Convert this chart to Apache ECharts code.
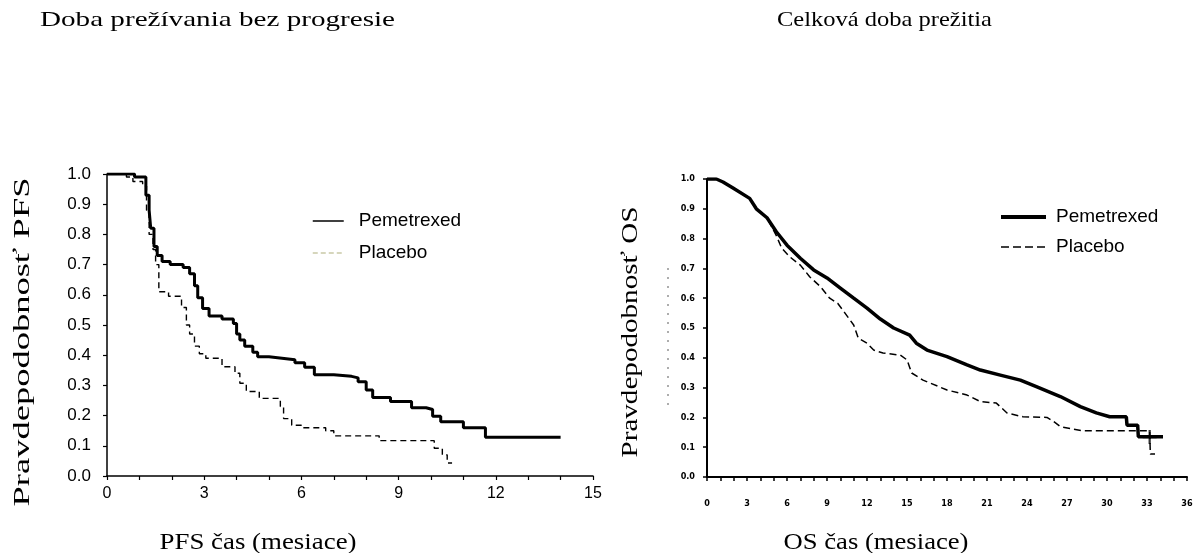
<!DOCTYPE html>
<html>
<head>
<meta charset="utf-8">
<script src="https://cdn.jsdelivr.net/npm/echarts@6/dist/echarts.min.js"></script>
<style>html,body{margin:0;padding:0;background:#fff;}#c{width:1199px;height:553px;}</style>
</head>
<body>
<div id="c"></div>
<script>
// ---- data ----
const pfsPemetrexed = [[0,1.0],[0.85,0.99],[1.2,0.93],[1.3,0.88],[1.35,0.82],[1.45,0.76],[1.55,0.73],[1.7,0.71],[1.95,0.70],[2.35,0.69],[2.55,0.67],[2.7,0.63],[2.8,0.59],[2.95,0.555],[3.15,0.53],[3.55,0.52],[3.9,0.505],[4.0,0.47],[4.1,0.45],[4.25,0.43],[4.5,0.41],[4.65,0.395],[5.0,0.39],[5.4,0.385],[5.8,0.375],[6.1,0.36],[6.4,0.335],[7.0,0.33],[7.55,0.325],[7.75,0.312],[8.0,0.285],[8.2,0.26],[8.75,0.247],[9.4,0.226],[9.85,0.22],[10.05,0.198],[10.3,0.18],[11.0,0.16],[11.68,0.128],[14.0,0.128]];
const pfsPlacebo = [[0,1.0],[0.6,0.99],[0.8,0.975],[1.1,0.96],[1.22,0.88],[1.3,0.8],[1.42,0.75],[1.5,0.70],[1.6,0.61],[1.9,0.595],[2.3,0.558],[2.45,0.5],[2.55,0.47],[2.7,0.43],[2.85,0.405],[3.05,0.39],[3.55,0.362],[3.95,0.34],[4.1,0.307],[4.3,0.28],[4.7,0.257],[5.35,0.23],[5.45,0.19],[5.7,0.168],[6.0,0.16],[6.75,0.15],[7.0,0.133],[8.4,0.117],[10.1,0.092],[10.35,0.07],[10.5,0.043],[10.65,0.043]];
const osPemetrexed = [[0,1.0],[0.7,1.0],[1.2,0.99],[1.95,0.97],[3.2,0.935],[3.7,0.90],[4.5,0.87],[5.2,0.823],[6.0,0.778],[7.0,0.734],[8.0,0.695],[9.0,0.668],[10.0,0.634],[11.0,0.60],[12.0,0.567],[13.0,0.53],[14.0,0.50],[15.2,0.476],[15.7,0.449],[16.5,0.426],[18.0,0.404],[19.5,0.376],[20.5,0.359],[22.0,0.342],[23.5,0.325],[24.7,0.303],[26.5,0.27],[28.0,0.236],[29.2,0.215],[30.2,0.202],[31.45,0.202],[31.5,0.174],[32.3,0.174],[32.35,0.135],[34.2,0.135]];
const osPlacebo = [[0,1.0],[0.7,1.0],[1.2,0.99],[2.0,0.97],[3.2,0.935],[3.7,0.90],[4.5,0.87],[5.2,0.81],[5.6,0.768],[6.2,0.739],[7.0,0.711],[7.7,0.672],[8.5,0.639],[9.2,0.60],[9.8,0.583],[10.35,0.55],[11.0,0.51],[11.35,0.466],[12.0,0.449],[12.5,0.426],[13.2,0.416],[14.5,0.409],[15.0,0.393],[15.35,0.349],[16.2,0.325],[18.0,0.292],[19.5,0.275],[20.5,0.253],[21.7,0.248],[22.5,0.215],[23.7,0.202],[25.5,0.2],[26.0,0.186],[26.5,0.169],[28.2,0.155],[33.2,0.155],[33.25,0.077],[33.6,0.077]];
const osCensor = [[33.2,0.134]];
const seriesNames = ['Pemetrexed','Placebo'];
const titles = ['Doba prežívania bez progresie','Celková doba prežitia'];
const yNames = ['Pravdepodobnosť PFS','Pravdepodobnosť OS'];
const xNames = ['PFS čas (mesiace)','OS čas (mesiace)'];

// ---- helpers ----
const mctx = document.createElement('canvas').getContext('2d');
function fitScale(text, font, targetW){ mctx.font = font; return targetW / mctx.measureText(text).width; }
const SERIF = '"Liberation Serif","Times New Roman",serif';
const titleFont = '21px ' + SERIF;
const nameFont = '24px ' + SERIF;
function txt(text, font, x, y, targetW, opts){
  opts = opts || {};
  return Object.assign({type:'text', x:x, y:y, scaleX: fitScale(text, font, targetW),
    style:{text:text, font:font, fill:'#000', align: opts.align || 'left', verticalAlign:'middle'}}, opts.rotation ? {rotation: opts.rotation} : {});
}
const tickFmt3 = v => (Math.round(v) % 3 === 0 ? String(Math.round(v)) : '');
const noSymbol = {color:'rgba(0,0,0,0)', opacity:0, borderWidth:0};

const chart = echarts.init(document.getElementById('c'), null, {renderer:'canvas'});
chart.setOption({
  backgroundColor:'#fff',
  animation:false,
  grid:[
    {left:107, top:174, width:486, height:302},
    {left:707, top:179, width:480, height:298}
  ],
  xAxis:[
    {gridIndex:0, type:'value', min:0, max:15, interval:1, offset:1,
     axisLine:{lineStyle:{color:'#000', width:1.5}}, axisTick:{length:4, lineStyle:{color:'#000', width:1.2}},
     axisLabel:{formatter:tickFmt3, color:'#000', fontFamily:'"Liberation Sans",Arial', fontSize:16, margin:9},
     splitLine:{show:false}},
    {gridIndex:1, type:'value', min:0, max:36, interval:1, offset:5,
     axisLine:{lineStyle:{color:'#000', width:2}}, axisTick:{length:4, lineStyle:{color:'#000', width:1.5}},
     axisLabel:{formatter:tickFmt3, color:'#000', fontFamily:'"DejaVu Sans Condensed","DejaVu Sans"', fontWeight:'bold', fontSize:9, margin:17},
     splitLine:{show:false}}
  ],
  yAxis:[
    {gridIndex:0, type:'value', min:0, max:1, interval:0.1,
     axisLine:{show:true, lineStyle:{color:'#000', width:1.5}}, axisTick:{show:true, length:4, lineStyle:{color:'#000', width:1.2}},
     axisLabel:{formatter:v=>v.toFixed(1), color:'#000', fontFamily:'"Liberation Sans",Arial', fontSize:17, margin:16},
     splitLine:{show:false}},
    {gridIndex:1, type:'value', min:0, max:1, interval:0.1,
     axisLine:{show:true, lineStyle:{color:'#000', width:2}}, axisTick:{show:true, length:4, lineStyle:{color:'#000', width:1.5}},
     axisLabel:{formatter:v=>v.toFixed(1), color:'#000', fontFamily:'"DejaVu Sans Condensed","DejaVu Sans"', fontWeight:'bold', fontSize:9, margin:12},
     splitLine:{show:false}}
  ],
  legend:[
    {left:312, top:210, padding:0, orient:'vertical', itemWidth:31, itemHeight:14, itemGap:10,
     itemStyle:noSymbol,
     textStyle:{fontFamily:'"Liberation Sans",Arial', fontSize:19, color:'#000', lineHeight:22, padding:[0,0,0,10]},
     data:[{name:seriesNames[0], itemStyle:noSymbol, lineStyle:{color:'#000', width:1.5, type:'solid'}},
           {name:seriesNames[1], itemStyle:noSymbol, lineStyle:{color:'#c9c9a6', width:1.5, type:[5,3]}}]},
    {left:999, top:206, padding:0, orient:'vertical', itemWidth:45, itemHeight:14, itemGap:8,
     itemStyle:noSymbol,
     textStyle:{fontFamily:'"Liberation Sans",Arial', fontSize:19, color:'#000', lineHeight:22, padding:[0,0,0,5]},
     data:[{name:seriesNames[0], itemStyle:noSymbol, lineStyle:{color:'#000', width:4, type:'solid'}},
           {name:seriesNames[1], itemStyle:noSymbol, lineStyle:{color:'#000', width:1.5, type:[8,4]}}]}
  ],
  series:[
    {name:seriesNames[1], type:'line', xAxisIndex:0, yAxisIndex:0, data:pfsPlacebo, step:'end', symbol:'none',
     lineStyle:{color:'#000', width:1.4, type:[6,4]}, z:2},
    {name:seriesNames[0], type:'line', xAxisIndex:0, yAxisIndex:0, data:pfsPemetrexed, step:'end', symbol:'none',
     lineStyle:{color:'#000', width:3}, z:3},
    {name:seriesNames[1], type:'line', xAxisIndex:1, yAxisIndex:1, data:osPlacebo, symbol:'none',
     lineStyle:{color:'#000', width:1.5, type:[7,4]}, z:2},
    {name:seriesNames[0], type:'line', xAxisIndex:1, yAxisIndex:1, data:osPemetrexed, symbol:'none',
     lineStyle:{color:'#000', width:3.5}, z:3},
    {name:'censor', type:'scatter', xAxisIndex:1, yAxisIndex:1, data:osCensor,
     symbol:'path://M4.2,0H5.8V10H4.2ZM0,4.2H10V5.8H0Z', symbolSize:14, itemStyle:{color:'#000'}, z:4}
  ],
  graphic:[
    txt(titles[0], titleFont, 40, 20, 355),
    txt(titles[1], titleFont, 777, 20, 215),
    txt(yNames[0], nameFont, 23, 342, 329, {align:'center', rotation:Math.PI/2}),
    txt(yNames[1], nameFont, 631, 332, 251, {align:'center', rotation:Math.PI/2}),
    txt(xNames[0], nameFont, 258, 543, 197, {align:'center'}),
    txt(xNames[1], nameFont, 876, 543, 185, {align:'center'}),
    {type:'line', shape:{x1:668, y1:268, x2:668, y2:410}, style:{stroke:'#777', lineWidth:1.2, lineDash:[2,7]}}
  ]
});
</script>
</body>
</html>
